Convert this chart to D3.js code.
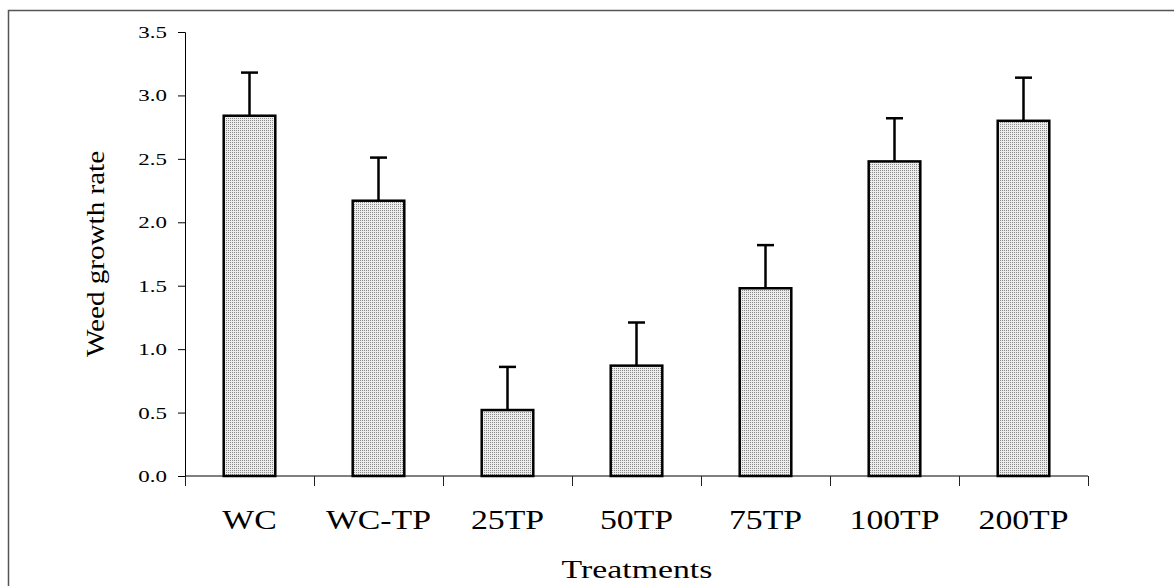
<!DOCTYPE html>
<html>
<head>
<meta charset="utf-8">
<script src="https://cdn.jsdelivr.net/npm/d3@7"></script>
<style>
  body { margin: 0; background: #fff; }
  svg text { font-family: "Liberation Serif", "Times New Roman", serif; fill: #000; }
</style>
</head>
<body>
<svg id="chart" width="1174" height="586"></svg>
<script>
const treatments = ["WC", "WC-TP", "25TP", "50TP", "75TP", "100TP", "200TP"];
const growthRate = [2.84, 2.17, 0.52, 0.87, 1.48, 2.48, 2.80];
const stdError = [0.34, 0.34, 0.34, 0.34, 0.34, 0.34, 0.34];
const yTicks = [0, 0.5, 1.0, 1.5, 2.0, 2.5, 3.0, 3.5];

const plotLeft = 185, plotRight = 1088, plotTop = 32, plotBottom = 476;

const svg = d3.select("#chart");

// outer frame (runs off the right and bottom edge)
svg.append("rect")
    .attr("x", 8.5).attr("y", 10.5)
    .attr("width", 1200).attr("height", 600)
    .attr("fill", "none")
    .attr("stroke", "#555")
    .attr("stroke-width", 1.5);

// dotted fill like the original
const pat = svg.append("defs").append("pattern")
    .attr("id", "dots")
    .attr("width", 2).attr("height", 2)
    .attr("patternUnits", "userSpaceOnUse");
pat.append("rect").attr("width", 2).attr("height", 2).attr("fill", "#ececec");
pat.append("rect").attr("width", 1).attr("height", 1).attr("fill", "#8c8c8c");

const x = d3.scaleBand()
    .domain(treatments)
    .range([plotLeft, plotRight])
    .paddingInner(0.6)
    .paddingOuter(0.3);

const xEdge = d3.scaleLinear()
    .domain([0, treatments.length])
    .range([plotLeft, plotRight]);

const y = d3.scaleLinear()
    .domain([0, 3.5])
    .range([plotBottom, plotTop]);

// y axis (labels are a bit wide in the original, so stretch them)
const yAxis = svg.append("g")
    .attr("transform", `translate(${plotLeft},0)`)
    .call(d3.axisLeft(y).tickValues(yTicks).tickFormat(d3.format(".1f")).tickSize(7).tickPadding(0));
yAxis.select(".domain").attr("stroke", "#000");
yAxis.selectAll(".tick text")
    .attr("x", 0)
    .attr("font-size", 17)
    .attr("font-family", "Liberation Serif")
    .attr("transform", "translate(-18,0) scale(1.35,1)");

// x axis: ticks at the category edges
const xAxis = svg.append("g")
    .attr("transform", `translate(0,${plotBottom})`)
    .call(d3.axisBottom(xEdge).tickValues(d3.range(treatments.length + 1)).tickFormat("").tickSize(10).tickSizeOuter(0));
xAxis.select(".domain").attr("stroke", "#000").attr("d", `M${plotLeft},0H${plotRight}`);
xAxis.selectAll(".tick line").attr("stroke", "#222");

// bars
svg.selectAll("rect.bar")
    .data(treatments)
    .join("rect")
    .attr("class", "bar")
    .attr("x", d => x(d))
    .attr("width", x.bandwidth())
    .attr("y", (d, i) => y(growthRate[i]))
    .attr("height", (d, i) => plotBottom - y(growthRate[i]))
    .attr("fill", "url(#dots)")
    .attr("stroke", "#000")
    .attr("stroke-width", 2.5);

// error bars (upper only)
const err = svg.append("g").attr("stroke", "#000").attr("stroke-width", 2.5);
treatments.forEach((d, i) => {
    const cx = x(d) + x.bandwidth() / 2;
    err.append("line")
        .attr("x1", cx).attr("x2", cx)
        .attr("y1", y(growthRate[i])).attr("y2", y(growthRate[i] + stdError[i]));
    err.append("line")
        .attr("x1", cx - 8.5).attr("x2", cx + 8.5)
        .attr("y1", y(growthRate[i] + stdError[i])).attr("y2", y(growthRate[i] + stdError[i]));
});

// category labels
svg.selectAll("text.cat")
    .data(treatments)
    .join("text")
    .attr("class", "cat")
    .attr("transform", d => `translate(${x(d) + x.bandwidth() / 2},529) scale(1.25,1)`)
    .attr("text-anchor", "middle")
    .attr("font-size", 27)
    .text(d => d);

// axis titles
svg.append("text")
    .attr("transform", "translate(637,578) scale(1.3,1)")
    .attr("text-anchor", "middle")
    .attr("font-size", 26)
    .text("Treatments");

svg.append("text")
    .attr("transform", `translate(104,${(plotTop + plotBottom) / 2}) rotate(-90) scale(1.12,1)`)
    .attr("text-anchor", "middle")
    .attr("font-size", 26)
    .text("Weed growth rate");
</script>
</body>
</html>
